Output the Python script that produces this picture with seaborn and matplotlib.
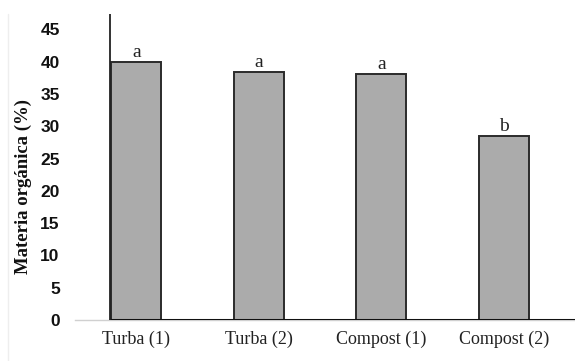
import matplotlib
matplotlib.use("Agg")
import matplotlib.pyplot as plt
import seaborn as sns
import pandas as pd
import numpy as np

categories = ["Turba (1)", "Turba (2)", "Compost (1)", "Compost (2)"]
values = [40.0, 38.4, 38.1, 28.5]
letters = ["a", "a", "a", "b"]
yticks = [0, 5, 10, 15, 20, 25, 30, 35, 40, 45]

sns.set_style("white")
plt.rcParams['font.family'] = ['Liberation Serif', 'DejaVu Serif']

df = pd.DataFrame({"cat": categories, "val": values})

fig = plt.figure(figsize=(5.75, 3.61), dpi=100)
ax = fig.add_axes([75/575, 41/361, 500/575, 306/361])

sns.barplot(data=df, x="cat", y="val", ax=ax, color="#ababab", width=0.41,
            edgecolor="#2b2b2b", linewidth=1.4, saturation=1)

ax.set_xlim(-0.5, 3.58)
ax.set_ylim(0, 47.4)

for i, (v, l) in enumerate(zip(values, letters)):
    ax.text(i, v + 0.1, l, ha="center", va="bottom", fontsize=14, color="#222222")

# baseline and vertical axis line
ax.axhline(0, xmin=(111-75)/500, xmax=1, color="#111111", lw=2.2, zorder=5)
ax.axvline(-0.213, ymin=0, ymax=1, color="#222222", lw=1.3, zorder=5)

for s in ["top", "right", "left"]:
    ax.spines[s].set_visible(False)
ax.spines["bottom"].set_color("#d0d0d0")
ax.spines["bottom"].set_linewidth(1.0)

ax.set_yticks(yticks)
ax.set_yticklabels([str(t) for t in yticks], fontsize=12.5, fontweight="bold",
                   family=["Liberation Sans", "DejaVu Sans"])
ax.tick_params(axis="y", length=0, pad=11, colors="#111111")

ax.set_xticks(np.arange(len(categories)))
ax.set_xticklabels(categories, fontsize=13, color="#222222")
ax.tick_params(axis="x", length=0, pad=8)
# minor ticks at category boundaries
ax.set_xticks(np.arange(-0.5, len(categories)), minor=True)
ax.tick_params(axis="x", which="minor", length=4, color="#d0d0d0", width=1, direction="out")

ax.set_xlabel("")
ax.set_ylabel("Materia orgánica (%)", fontsize=13.5, fontweight="bold", color="#111111")
ax.yaxis.set_label_coords(-43/500, (320 - 186) / 306)

# faint left frame line
fig.add_artist(plt.Line2D([8/575, 8/575], [0, 1 - 14/361], color="#eeeeee", lw=1))

fig.savefig("out.png", dpi=100)
